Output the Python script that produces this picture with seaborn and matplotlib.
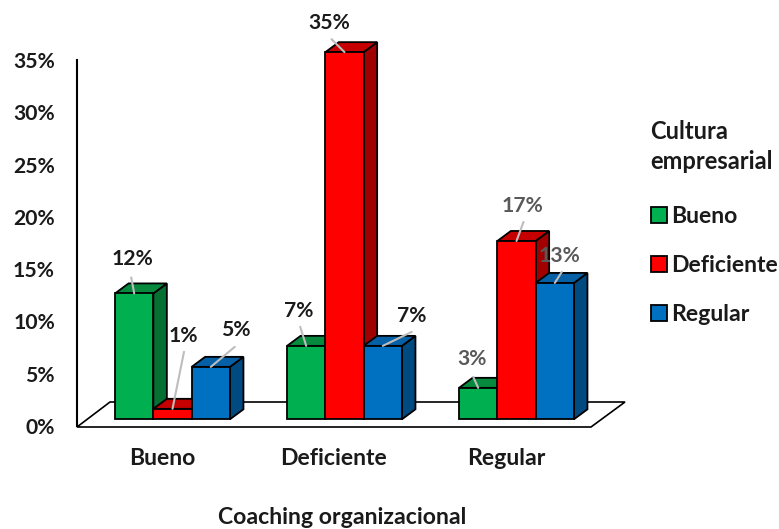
import matplotlib
matplotlib.use("Agg")
import matplotlib.pyplot as plt
import numpy as np
import pandas as pd
import seaborn as sns
from matplotlib.patches import Polygon
from matplotlib.transforms import ScaledTranslation

# Survey results: coaching level (groups) crossed with company culture (series)
coaching = ["Bueno", "Deficiente", "Regular"]
culture = ["Bueno", "Deficiente", "Regular"]
bueno_pct = [12, 7, 3]
deficiente_pct = [1, 35, 17]
regular_pct = [5, 7, 13]
y_ticks = [0, 5, 10, 15, 20, 25, 30, 35]

front_colors = ["#00B050", "#FF0000", "#0070C0"]
top_colors = ["#078A3E", "#C60000", "#0560A6"]
side_colors = ["#067033", "#A00000", "#004A82"]

W, H, DPI = 779, 529, 100
TEXT_DARK = "#1A1A1A"
TEXT_SOFT = "#595959"
LEADER = "#BDBDBD"
FONT = "Lato"
VALUE_SIZE = 15.2
LABEL_SIZE = 16.6

sns.set_theme(style="white")
plt.rcParams["font.family"] = [FONT, "DejaVu Sans"]
plt.rcParams["font.weight"] = "bold"

df = pd.DataFrame({
    "coaching": np.repeat(coaching, len(culture)),
    "cultura": culture * len(coaching),
    "pct": np.ravel(np.column_stack([bueno_pct, deficiente_pct, regular_pct])),
})

fig = plt.figure(figsize=(W / DPI, H / DPI), dpi=DPI, facecolor="white")


def px_axes(left, top, right, bottom):
    return fig.add_axes([left / W, 1 - bottom / H, (right - left) / W, (bottom - top) / H])


# Chart scale in pixels per data unit, and the extrusion of the pseudo-3D boxes
X_SCALE, Y_SCALE = 172.0, 10.49
DEPTH_X, DEPTH_Y = 13.5 / X_SCALE, 10.0 / Y_SCALE

ax = px_axes(77, 30, 625, 427)
sns.barplot(data=df, x="coaching", y="pct", hue="cultura", order=coaching,
            hue_order=culture, palette=front_colors, width=0.668, gap=0,
            saturation=1, edgecolor="black", linewidth=1.3, ax=ax)
ax.set_xlim((77 - 172.5) / X_SCALE, (625 - 172.5) / X_SCALE)
ax.set_ylim((419.3 - 427) / Y_SCALE, (419.3 - 30) / Y_SCALE)
ax.patch.set_alpha(0)
for side in ax.spines.values():
    side.set_visible(False)
ax.set_yticks([])
ax.set_ylabel("")

# Floor slab under the bars
y0, _ = ax.get_ylim()
x_left, x_right = ax.get_xlim()
floor_back = (419.3 - 402) / Y_SCALE
slant = (625 - 591) / X_SCALE
ax.add_patch(Polygon([(x_left, y0), (x_right - slant, y0), (x_right, floor_back),
                      (x_left + (110 - 77) / X_SCALE, floor_back)],
                     closed=True, facecolor="white", edgecolor="black",
                     linewidth=1.2, zorder=1, clip_on=False))

# Extrude each bar, working left to right so nearer faces hide the ones before them
bars = []
for series_idx, container in enumerate(ax.containers):
    for bar in container:
        bars.append((bar.get_x(), series_idx, bar))
bars.sort(key=lambda item: item[0])

for order, (_, series_idx, bar) in enumerate(bars):
    x0, w, h = bar.get_x(), bar.get_width(), bar.get_height()
    base = 3 + order * 3
    ax.add_patch(Polygon([(x0 + w, 0), (x0 + w + DEPTH_X, DEPTH_Y),
                          (x0 + w + DEPTH_X, h + DEPTH_Y), (x0 + w, h)],
                         closed=True, facecolor=side_colors[series_idx],
                         edgecolor="black", linewidth=1.3, zorder=base, clip_on=False))
    ax.add_patch(Polygon([(x0, h), (x0 + w, h), (x0 + w + DEPTH_X, h + DEPTH_Y),
                          (x0 + DEPTH_X, h + DEPTH_Y)],
                         closed=True, facecolor=top_colors[series_idx],
                         edgecolor="black", linewidth=1.3, zorder=base + 1, clip_on=False))
    bar.set_zorder(base + 2)
    bar.set_clip_on(False)

# Offsets in pixels from the top of each bar: (series, group) -> label centre, leader start
label_offsets = {
    (0, 0): ((-2, 34), (-3, 16)),
    (1, 0): ((10.5, 73), (11.5, 57)),
    (2, 0): ((25, 37), (24, 20)),
    (0, 1): ((-7, 35), (-6, 19)),
    (1, 1): ((-15, 29), (-13, 13)),
    (2, 1): ((29, 30), (29, 14)),
    (0, 2): ((-6.5, 29), (-5, 11)),
    (1, 2): ((6, 35), (7, 19)),
    (2, 2): ((5, 27), (7, 11)),
}
soft_labels = {(0, 2), (1, 2), (2, 2)}
px = 72 / DPI

for series_idx, container in enumerate(ax.containers):
    for group_idx, bar in enumerate(container):
        top = (bar.get_x() + bar.get_width() / 2, bar.get_height())
        text_off, line_off = label_offsets[(series_idx, group_idx)]
        ax.annotate("", xy=top, xytext=(line_off[0] * px, line_off[1] * px),
                    textcoords="offset points", zorder=100, annotation_clip=False,
                    arrowprops=dict(arrowstyle="-", color=LEADER, lw=1.5,
                                    shrinkA=0, shrinkB=0))
        key = (series_idx, group_idx)
        ax.annotate(f"{bar.get_height():.0f}%", xy=top,
                    xytext=(text_off[0] * px, text_off[1] * px),
                    textcoords="offset points", ha="center", va="center",
                    fontsize=VALUE_SIZE, fontweight="bold", zorder=101, annotation_clip=False,
                    color=TEXT_SOFT if key in soft_labels else TEXT_DARK)

# Category labels sit left of the bars because of the oblique projection
ax.tick_params(axis="x", length=0, pad=15, labelsize=LABEL_SIZE, labelcolor=TEXT_DARK)
shift = ScaledTranslation(-10.5 / DPI, 0, fig.dpi_scale_trans)
for label in ax.get_xticklabels():
    label.set_transform(label.get_transform() + shift)
    label.set_fontweight("bold")
ax.set_xlabel("")
fig.text(342 / W, 1 - 518 / H, "Coaching organizacional", ha="center", va="center",
         fontsize=LABEL_SIZE, fontweight="bold", color=TEXT_DARK)

# Legend with a left-aligned two-line title
handles, labels = ax.get_legend_handles_labels()
ax.get_legend().remove()
legend = fig.legend(handles, labels, title="Cultura\nempresarial", loc="upper left",
                    bbox_to_anchor=(650.5 / W, 1 - 120 / H), frameon=False,
                    alignment="left", handlelength=0.7, handleheight=0.7,
                    handletextpad=0.2, labelspacing=1.22, borderaxespad=0, borderpad=0,
                    prop={"family": FONT, "weight": "bold", "size": LABEL_SIZE},
                    title_fontproperties={"family": FONT, "weight": "bold", "size": 17})
legend.get_title().set_linespacing(1.35)
legend.get_title().set_color(TEXT_DARK)
for text in legend.get_texts():
    text.set_color(TEXT_DARK)
legend._legend_box.sep = 24

# Percentage scale stands on the front-left corner of the floor, not on the bar base
scale_ax = px_axes(77, 60, 625, 426)
scale_ax.patch.set_alpha(0)
scale_ax.set_ylim(0, 35)
scale_ax.set_xticks([])
scale_ax.set_yticks(y_ticks)
scale_ax.set_yticklabels([f"{t}%" for t in y_ticks], fontweight="bold")
scale_ax.tick_params(axis="y", length=0, pad=22 * px, labelsize=VALUE_SIZE, labelcolor=TEXT_DARK)
for name, side in scale_ax.spines.items():
    side.set_visible(name == "left")
scale_ax.spines["left"].set_color("black")
scale_ax.spines["left"].set_linewidth(1.5)

fig.savefig("out.png", dpi=DPI, facecolor="white")
